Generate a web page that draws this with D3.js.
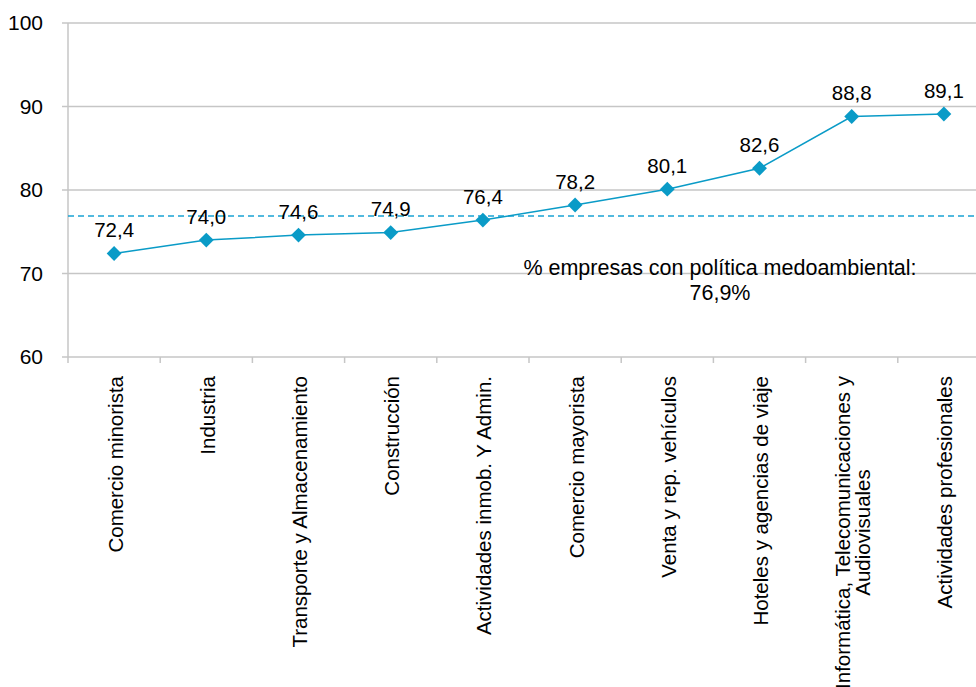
<!DOCTYPE html>
<html>
<head>
<meta charset="utf-8">
<script src="https://cdn.jsdelivr.net/npm/d3@7"></script>
<style>
  body { margin: 0; background: #fff; }
  svg { display: block; font-family: "Liberation Sans", Arial, sans-serif; }
</style>
</head>
<body>
<svg id="chart" width="976" height="687"></svg>
<script>
// data
const categories = [
  "Comercio minorista",
  "Industria",
  "Transporte y Almacenamiento",
  "Construcción",
  "Actividades inmob. Y Admin.",
  "Comercio mayorista",
  "Venta y rep. vehículos",
  "Hoteles y agencias de viaje",
  "Informática, Telecomunicaciones y\nAudiovisuales",
  "Actividades profesionales"
];
const values = [72.4, 74.0, 74.6, 74.9, 76.4, 78.2, 80.1, 82.6, 88.8, 89.1];
const average = 76.9;
const averageLabel = ["% empresas con política medoambiental:", "76,9%"];
const yTicks = [60, 70, 80, 90, 100];

const W = 976, H = 687;
const plotLeft = 68, plotTop = 23, plotBottom = 357;
const bandW = 92.2;
const blue = "#0a9bc7";
const grid = "#c6c6c6";
const fs = "20.5px";

const svg = d3.select("#chart");

const x = d3.scaleBand()
    .domain(categories)
    .range([plotLeft, plotLeft + bandW * categories.length])
    .padding(0);

const y = d3.scaleLinear().domain([60, 100]).range([plotBottom, plotTop]);

const fmt = v => d3.format(".1f")(v).replace(".", ",");

// gridlines + y labels
svg.selectAll("line.grid")
    .data(yTicks)
    .join("line")
    .attr("class", "grid")
    .attr("x1", plotLeft - 6).attr("x2", W)
    .attr("y1", d => y(d)).attr("y2", d => y(d))
    .attr("stroke", grid).attr("stroke-width", 1.5);

svg.selectAll("text.ytick")
    .data(yTicks)
    .join("text")
    .attr("class", "ytick")
    .attr("x", 43)
    .attr("y", d => y(d))
    .attr("dy", "0.35em")
    .attr("text-anchor", "end")
    .style("font-size", "21px")
    .attr("fill", "#000")
    .text(d => d);

// y axis line
svg.append("line")
    .attr("x1", plotLeft).attr("x2", plotLeft)
    .attr("y1", plotTop).attr("y2", plotBottom + 6)
    .attr("stroke", grid).attr("stroke-width", 1.5);

// x ticks at band edges
const edges = categories.map(c => x(c)).concat([x(categories[categories.length - 1]) + x.bandwidth()]);
svg.selectAll("line.xtick")
    .data(edges.slice(1))
    .join("line")
    .attr("class", "xtick")
    .attr("x1", d => d).attr("x2", d => d)
    .attr("y1", plotBottom).attr("y2", plotBottom + 6)
    .attr("stroke", grid).attr("stroke-width", 1.5);

// category labels, rotated
const cx = d => x(d) + x.bandwidth() / 2;
const lblTop = 376;
const lineH = 20;
categories.forEach(c => {
  const lines = c.split("\n");
  const g = svg.append("g");
  const texts = lines.map((ln, i) => g.append("text")
      .style("font-size", fs)
      .attr("fill", "#000")
      .attr("text-anchor", "middle")
      .text(ln));
  const maxLen = d3.max(texts, t => t.node().getComputedTextLength());
  const center = lblTop + maxLen / 2;
  texts.forEach((t, i) => {
    const off = (i - (lines.length - 1) / 2) * lineH;
    const px = cx(c) + off;
    t.attr("transform", `translate(${px + 8.5},${center}) rotate(-90)`);
  });
});

// average dashed line
svg.append("line")
    .attr("x1", plotLeft).attr("x2", W)
    .attr("y1", y(average)).attr("y2", y(average))
    .attr("stroke", "#1aa3d3").attr("stroke-width", 1.5)
    .attr("stroke-dasharray", "6,4");

svg.selectAll("text.avg")
    .data(averageLabel)
    .join("text")
    .attr("class", "avg")
    .attr("x", 720)
    .attr("y", (d, i) => 275 + i * 25)
    .attr("text-anchor", "middle")
    .style("font-size", "21.5px")
    .attr("fill", "#000")
    .text(d => d);

// series line
const line = d3.line().x((d, i) => cx(categories[i])).y(d => y(d));
svg.append("path")
    .datum(values)
    .attr("d", line)
    .attr("fill", "none")
    .attr("stroke", blue)
    .attr("stroke-width", 1.5);

svg.selectAll("path.mark")
    .data(values)
    .join("path")
    .attr("class", "mark")
    .attr("d", d3.symbol(d3.symbolSquare, 110))
    .attr("transform", (d, i) => `translate(${cx(categories[i])},${y(d)}) rotate(45)`)
    .attr("fill", blue);

svg.selectAll("text.val")
    .data(values)
    .join("text")
    .attr("class", "val")
    .attr("x", (d, i) => cx(categories[i]))
    .attr("y", d => y(d) - 16.5)
    .attr("text-anchor", "middle")
    .style("font-size", fs)
    .attr("fill", "#000")
    .text(d => fmt(d));
</script>
</body>
</html>
